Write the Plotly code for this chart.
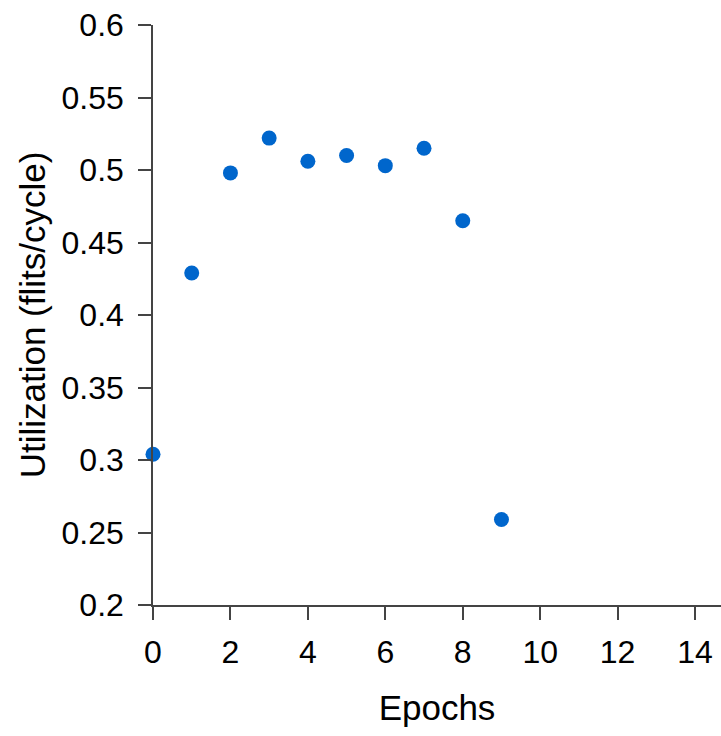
import plotly.graph_objects as go

epochs = [0, 1, 2, 3, 4, 5, 6, 7, 8, 9]
utilization = [0.304, 0.429, 0.498, 0.522, 0.506, 0.510, 0.503, 0.515, 0.465, 0.259]
x_ticks = [0, 2, 4, 6, 8, 10, 12, 14]
y_ticks = [0.2, 0.25, 0.3, 0.35, 0.4, 0.45, 0.5, 0.55, 0.6]
y_tick_text = ["0.2", "0.25", "0.3", "0.35", "0.4", "0.45", "0.5", "0.55", "0.6"]

FONT = "Liberation Sans, Arial, sans-serif"

fig = go.Figure(go.Scatter(
    x=epochs, y=utilization, mode="markers",
    marker=dict(size=15, color="#0066cc"),
    cliponaxis=False,
    hoverinfo="skip",
))

axis_common = dict(
    showline=True, linecolor="#444", linewidth=1.5,
    ticks="outside", ticklen=13, tickwidth=1.5, tickcolor="#444",
    showgrid=False, zeroline=False, ticklabeloverflow="allow",
    tickfont=dict(family=FONT, size=32, color="black"),
)

fig.update_layout(
    width=721, height=736,
    margin=dict(l=153, r=0, t=25, b=131),
    paper_bgcolor="white", plot_bgcolor="white",
    showlegend=False,
    xaxis=dict(range=[0, 14.67], tickvals=x_ticks, ticklabelstandoff=5,
               title=dict(text="Epochs", font=dict(family=FONT, size=35, color="black"), standoff=26),
               **axis_common),
    yaxis=dict(range=[0.2, 0.6], tickvals=y_ticks, ticktext=y_tick_text, ticklabelstandoff=8,
               title=dict(text="Utilization (flits/cycle)", font=dict(family=FONT, size=35, color="black"), standoff=5),
               **axis_common),
)

fig.write_html(
    "out.html",
    config={"displayModeBar": False},
    post_script="document.body.style.margin='0';document.body.style.overflow='hidden';",
)
